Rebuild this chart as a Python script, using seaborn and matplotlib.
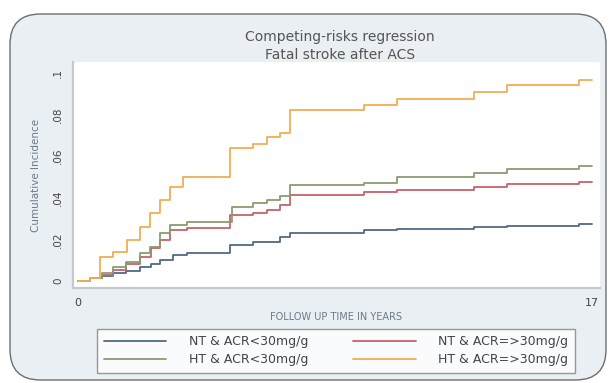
import matplotlib.pyplot as plt
import pandas as pd
import seaborn as sns
from matplotlib.patches import FancyBboxPatch

# follow-up times (years) and cumulative incidence
NT_LOW_T = [0, 0.4, 0.8, 1.16, 1.6, 2.05, 2.4, 2.72, 3.15, 3.6, 5.03, 5.8, 6.69, 7.0, 9.44, 10.56, 13.08, 14.2, 16.56, 17.0]
NT_LOW_V = [0, 0.0015, 0.0025, 0.0038, 0.005, 0.0067, 0.008, 0.010, 0.0125, 0.0135, 0.0173, 0.0188, 0.021, 0.023, 0.0245, 0.025, 0.026, 0.0264, 0.0274, 0.0274]

NT_HIGH_T = [0, 0.4, 0.8, 1.16, 1.6, 2.05, 2.4, 2.72, 3.05, 3.6, 5.03, 5.8, 6.26, 6.69, 7.0, 9.44, 10.56, 13.08, 14.2, 16.56, 17.0]
NT_HIGH_V = [0, 0.0015, 0.003, 0.0053, 0.008, 0.0115, 0.016, 0.0197, 0.0245, 0.0255, 0.0317, 0.0327, 0.034, 0.0365, 0.0413, 0.0428, 0.0437, 0.045, 0.0466, 0.0476, 0.0476]

HT_LOW_T = [0, 0.4, 0.8, 1.16, 1.6, 2.05, 2.38, 2.72, 3.05, 3.6, 5.1, 5.8, 6.26, 6.69, 7.0, 9.44, 10.56, 13.08, 14.2, 16.56, 17.0]
HT_LOW_V = [0, 0.0015, 0.004, 0.0067, 0.009, 0.0135, 0.0163, 0.023, 0.027, 0.0284, 0.0356, 0.0375, 0.039, 0.041, 0.046, 0.047, 0.050, 0.052, 0.054, 0.0553, 0.0553]

HT_HIGH_T = [0, 0.4, 0.73, 1.16, 1.62, 2.05, 2.38, 2.72, 3.05, 3.48, 5.03, 5.8, 6.26, 6.69, 7.0, 9.44, 10.56, 13.08, 14.2, 16.56, 17.0]
HT_HIGH_V = [0, 0.0014, 0.0115, 0.014, 0.0197, 0.026, 0.0327, 0.039, 0.045, 0.050, 0.064, 0.066, 0.069, 0.071, 0.082, 0.0846, 0.0875, 0.091, 0.094, 0.0966, 0.0966]

GROUPS = ["NT & ACR<30mg/g", "NT & ACR=>30mg/g", "HT & ACR<30mg/g", "HT & ACR=>30mg/g"]
COLORS = ["#526a85", "#c6626c", "#8a9c70", "#f2ac55"]

frames = []
for name, t, v in zip(GROUPS, [NT_LOW_T, NT_HIGH_T, HT_LOW_T, HT_HIGH_T],
                      [NT_LOW_V, NT_HIGH_V, HT_LOW_V, HT_HIGH_V]):
    frames.append(pd.DataFrame({"time": t, "cif": v, "group": name}))
df = pd.concat(frames, ignore_index=True)

sns.set_style("white")
plt.rcParams["font.family"] = ["DejaVu Sans"]

W, H = 610, 383
fig = plt.figure(figsize=(W / 100, H / 100), dpi=100)
fig.patch.set_facecolor("white")

# rounded outer panel, kept behind the axes
panel = FancyBboxPatch((10 / W, 3 / H), 596 / W, 366 / H,
                       boxstyle="round,pad=0,rounding_size=0.05",
                       transform=fig.transFigure, facecolor="#e9eff3",
                       edgecolor="#6e6e6e", linewidth=1.0, mutation_aspect=W / H,
                       zorder=-10)
fig.patches.append(panel)

ax = fig.add_axes([73 / W, (H - 288) / H, (600 - 73) / W, (288 - 62) / H])
ax.set_facecolor("white")

sns.lineplot(data=df, x="time", y="cif", hue="group", hue_order=GROUPS,
             palette=dict(zip(GROUPS, COLORS)), drawstyle="steps-post",
             linewidth=1.3, estimator=None, sort=False, legend=False, ax=ax)

ax.set_xlim(-0.166, 17.26)
ax.set_ylim(-0.0034, 0.1053)
ax.set_xticks([0, 17])
ax.set_xticklabels(["0", "17"], fontsize=8, color="#444444")
ax.set_yticks([0, 0.02, 0.04, 0.06, 0.08, 0.1])
ax.set_yticklabels(["0", ".02", ".04", ".06", ".08", ".1"], fontsize=7.5,
                   color="#444444", rotation=90, va="center")
ax.tick_params(axis="both", length=4, width=0.8, color="#bfbfbf", pad=3, direction="out")
for side in ["top", "right"]:
    ax.spines[side].set_visible(False)
for side in ["left", "bottom"]:
    ax.spines[side].set_color("#c6c9cc")
    ax.spines[side].set_linewidth(1.6)

ax.set_xlabel("FOLLOW UP TIME IN YEARS", fontsize=7, color="#6d7a88", labelpad=3)
ax.set_ylabel("Cumulative Incidence", fontsize=7.5, color="#6d7a88", labelpad=9)

fig.text(340 / W, 1 - 37 / H, "Competing-risks regression", ha="center", va="center",
         fontsize=10, color="#555555")
fig.text(340 / W, 1 - 55 / H, "Fatal stroke after ACS", ha="center", va="center",
         fontsize=10, color="#555555")

# legend filled column-wise: NT row on top, HT row below
order = [0, 2, 1, 3]
handles = [plt.Line2D([], [], color=COLORS[i], linewidth=1.3) for i in order]
labels = [GROUPS[i] for i in order]
leg = fig.legend(handles, labels, loc="center", bbox_to_anchor=(336 / W, 1 - 351 / H),
                 ncol=2, fontsize=9, frameon=True, fancybox=False,
                 handlelength=5.0, handletextpad=1.8, columnspacing=3.6,
                 borderpad=0.55, labelspacing=0.4)
leg.get_frame().set_edgecolor("#808080")
leg.get_frame().set_linewidth(1.0)
for txt in leg.get_texts():
    txt.set_color("#444444")

fig.savefig("out.png", dpi=100)
